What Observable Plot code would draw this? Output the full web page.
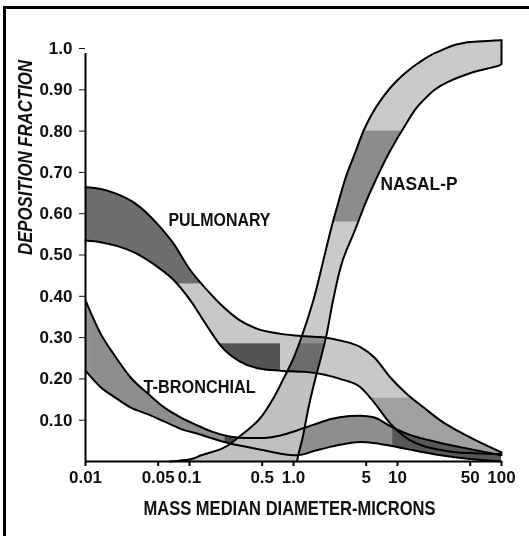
<!DOCTYPE html>
<html><head><meta charset="utf-8">
<script src="https://cdn.jsdelivr.net/npm/d3@7"></script>
<script src="https://cdn.jsdelivr.net/npm/@observablehq/plot@0.6"></script>
<style>
html,body{margin:0;padding:0;background:#fff;overflow:hidden}
#wrap{position:relative;width:529px;height:536px;overflow:hidden}
#border{position:absolute;left:3px;top:6px;width:600px;height:600px;border-top:3px solid #000;border-left:3px solid #000;pointer-events:none}
</style></head><body><div id="wrap"><div id="chart"></div><div id="border"></div></div>
<script>
// Axis ticks
const xTicks = [0.01, 0.05, 0.1, 0.5, 1, 5, 10, 50, 100];
const xTickLabels = ["0.01", "0.05", "0.1", "0.5", "1.0", "5", "10", "50", "100"];
const yTicks = [0.1, 0.2, 0.3, 0.4, 0.5, 0.6, 0.7, 0.8, 0.9, 1.0];
const yTickLabels = ["0.10", "0.20", "0.30", "0.40", "0.50", "0.60", "0.70", "0.80", "0.90", "1.0"];

// Pulmonary band (diameter in microns, upper / lower deposition fraction)
const pulmX     = [0.01, 0.014, 0.02, 0.03, 0.05, 0.07, 0.1, 0.15, 0.2, 0.3, 0.45, 0.75, 1.3, 2, 2.8, 4.4, 6, 8.5, 12, 18, 26, 38, 55, 100];
const pulmUpper = [0.664, 0.660, 0.648, 0.625, 0.573, 0.528, 0.466, 0.413, 0.380, 0.343, 0.321, 0.309, 0.303, 0.300, 0.293, 0.277, 0.252, 0.204, 0.166, 0.130, 0.099, 0.074, 0.053, 0.022];
const pulmLower = [0.535, 0.531, 0.522, 0.505, 0.470, 0.440, 0.393, 0.325, 0.280, 0.243, 0.226, 0.220, 0.217, 0.210, 0.200, 0.180, 0.142, 0.092, 0.058, 0.037, 0.028, 0.022, 0.020, 0.018];

// Tracheo-bronchial band
const tbX     = [0.01, 0.014, 0.019, 0.027, 0.04, 0.057, 0.082, 0.12, 0.17, 0.25, 0.36, 0.52, 0.75, 1.08, 1.6, 2.3, 3.5, 4.4, 5.9, 8.6, 12.4, 26, 50, 100];
const tbUpper = [0.390, 0.309, 0.257, 0.204, 0.164, 0.131, 0.107, 0.087, 0.071, 0.060, 0.057, 0.057, 0.063, 0.075, 0.090, 0.103, 0.110, 0.111, 0.107, 0.085, 0.067, 0.045, 0.030, 0.015];
const tbLower = [0.220, 0.180, 0.156, 0.131, 0.114, 0.097, 0.079, 0.067, 0.055, 0.043, 0.035, 0.027, 0.019, 0.015, 0.026, 0.036, 0.045, 0.047, 0.045, 0.038, 0.030, 0.015, 0.006, 0.000];

// Nasal-pharyngeal band (deposition fraction, left / right diameter)
const nasalV     = [0, 0.005, 0.015, 0.03, 0.06, 0.1, 0.15, 0.2, 0.25, 0.3, 0.39, 0.49, 0.56, 0.63, 0.69, 0.75, 0.81, 0.87, 0.92, 0.943, 0.963, 0.995, 1.015, 1.02];
const nasalLeft  = [0.065, 0.1, 0.13, 0.2, 0.3, 0.46, 0.63, 0.80, 1.0, 1.19, 1.55, 1.95, 2.28, 2.72, 3.2, 3.95, 4.9, 6.7, 9.7, 12.2, 15.5, 26, 47, 100];
const nasalRight = [1.08, 1.09, 1.11, 1.15, 1.23, 1.32, 1.45, 1.62, 1.83, 2.05, 2.4, 3.0, 3.9, 5.0, 6.4, 8.4, 11.6, 17, 31, 54, 100, 100, 100, 100];

// Shading patches inside each band (multiplied over the band's base tone)
const patchBand = ["pulm", "pulm", "pulm", "tb", "tb", "tb", "nasal", "nasal", "nasal"];
const patchX1   = [0.01, 0.01, 3, 0.22, 0.01, 9, 0.01, 0.01, 0.01];
const patchX2   = [100, 0.75, 100, 1.15, 0.012, 100, 100, 100, 100];
const patchY1   = [0.43, 0, 0, 0, 0.2, 0, 0.58, 0, 0.215];
const patchY2   = [1.1, 0.285, 0.153, 1, 0.4, 1, 0.80, 0.285, 0.303];
const patchFill = ["#6e6e6e", "#545454", "#a0a0a0", "#4a4a4a", "#909090", "#585858", "#8c8c8c", "#c0c0c0", "#909090"];

// Band labels
const labelText  = ["PULMONARY", "NASAL-P", "T-BRONCHIAL"];
const labelX     = [0.194, 16.1, 0.125];
const labelY     = [0.584, 0.672, 0.180];
const labelWidth = [102, 77, 112];

const pulm = pulmX.map((x, i) => ({x, lo: pulmLower[i], hi: pulmUpper[i]}));
const tb = tbX.map((x, i) => ({x, lo: tbLower[i], hi: tbUpper[i]}));
const nasal = nasalV.map((v, i) => ({v, left: nasalLeft[i], right: nasalRight[i]}));
const patches = patchBand.map((b, i) => ({band: b, x1: patchX1[i], x2: patchX2[i], y1: patchY1[i], y2: patchY2[i], fill: patchFill[i]}));
const labels = labelText.map((t, i) => ({t, x: labelX[i], y: labelY[i]}));
const xTickData = xTicks.map((x, i) => ({x, t: xTickLabels[i]}));
const bands = ["pulm", "tb", "nasal"];

const font = '"Liberation Sans", Arial, sans-serif';
const edge = {stroke: "#000", strokeWidth: 2};
const ink = "#111";

const chart = Plot.plot({
  width: 529, height: 536,
  marginLeft: 85, marginRight: 28, marginTop: 48, marginBottom: 75,
  style: {fontFamily: font, fontSize: "17px", fontWeight: "bold", color: ink, background: "#fff"},
  x: {type: "log", domain: [0.01, 100], axis: null},
  y: {domain: [0, 1], ticks: yTicks, tickFormat: d => yTickLabels[yTicks.indexOf(d)], tickSize: 6, tickPadding: 7, label: null},
  color: {type: "identity"},
  marks: [
    Plot.areaY(pulm, {x: "x", y1: "lo", y2: "hi", fill: "#c8c8c8", curve: "monotone-x", mixBlendMode: "multiply"}),
    Plot.areaY(tb, {x: "x", y1: "lo", y2: "hi", fill: "#8e8e8e", curve: "monotone-x", mixBlendMode: "multiply"}),
    Plot.areaX(nasal, {y: "v", x1: "left", x2: "right", fill: "#cacaca", curve: "monotone-y", mixBlendMode: "multiply"}),
    ...bands.map(b => Plot.rect(patches.filter(p => p.band === b), {x1: "x1", x2: "x2", y1: "y1", y2: "y2", fill: "fill", mixBlendMode: "multiply"})),
    Plot.line(pulm, {x: "x", y: "hi", curve: "monotone-x", ...edge}),
    Plot.line(pulm, {x: "x", y: "lo", curve: "monotone-x", ...edge}),
    Plot.line(tb, {x: "x", y: "hi", curve: "monotone-x", ...edge}),
    Plot.line(tb, {x: "x", y: "lo", curve: "monotone-x", ...edge}),
    Plot.line(nasal, {x: "left", y: "v", curve: "monotone-y", ...edge}),
    Plot.line(nasal, {x: "right", y: "v", curve: "monotone-y", ...edge}),
    // axes lines
    Plot.ruleX([0.01], {y1: 0, y2: 1, insetBottom: -5, stroke: "#000", strokeWidth: 2}),
    Plot.ruleY([0], {x1: 0.01, x2: 100, stroke: "#000", strokeWidth: 2}),
    // x ticks and labels
    Plot.ruleX(xTickData, {x: "x", y1: 0, y2: 0, insetBottom: -5, stroke: "#000", strokeWidth: 2}),
    Plot.text(xTickData, {x: "x", y: 0, text: "t", dy: 16, fontSize: 17, fontWeight: "bold", fill: ink}),
    // band labels
    Plot.text(labels, {x: "x", y: "y", text: "t", fontSize: 18, fontWeight: "bold", fill: ink}),
    // axis titles
    Plot.text(["DEPOSITION FRACTION"], {frameAnchor: "left", rotate: -90, dx: -60, fontSize: 20, fontStyle: "italic", fontWeight: "bold", fill: ink}),
    Plot.text(["MASS MEDIAN DIAMETER-MICRONS"], {frameAnchor: "bottom", dy: 53, dx: -4, fontSize: 20, fontWeight: "bold", fill: ink})
  ]
});

document.getElementById("chart").append(chart);

const svg = d3.select(chart);

// Clip each band's shading patches to the band's own outline
const defs = svg.append("defs");
const areaGroups = svg.selectAll('g[aria-label="area"]').nodes();
const rectGroups = svg.selectAll('g[aria-label="rect"]').nodes();
bands.forEach((b, i) => {
  const g = areaGroups[i], r = rectGroups[i];
  if (!g || !r) return;
  const p = g.querySelector("path");
  if (!p) return;
  const cp = defs.append("clipPath").attr("id", `clip-${b}`).append("path").attr("d", p.getAttribute("d"));
  const t = g.getAttribute("transform");
  if (t) cp.attr("transform", t);
  const rt = r.getAttribute("transform");
  if (rt) {
    const w = document.createElementNS("http://www.w3.org/2000/svg", "g");
    r.parentNode.insertBefore(w, r);
    w.appendChild(r);
    w.setAttribute("clip-path", `url(#clip-${b})`);
    w.style.mixBlendMode = "multiply";
  } else {
    r.setAttribute("clip-path", `url(#clip-${b})`);
  }
});

// Condensed lettering: fit the labels to the widths of the original hand lettering
const fitWidths = new Map(labelText.map((t, i) => [t, labelWidth[i]]));
fitWidths.set("DEPOSITION FRACTION", 195);
fitWidths.set("MASS MEDIAN DIAMETER-MICRONS", 292);
svg.selectAll("text").each(function () {
  const w = fitWidths.get(this.textContent);
  if (w) { this.setAttribute("textLength", w); this.setAttribute("lengthAdjust", "spacingAndGlyphs"); }
});
</script></body></html>
